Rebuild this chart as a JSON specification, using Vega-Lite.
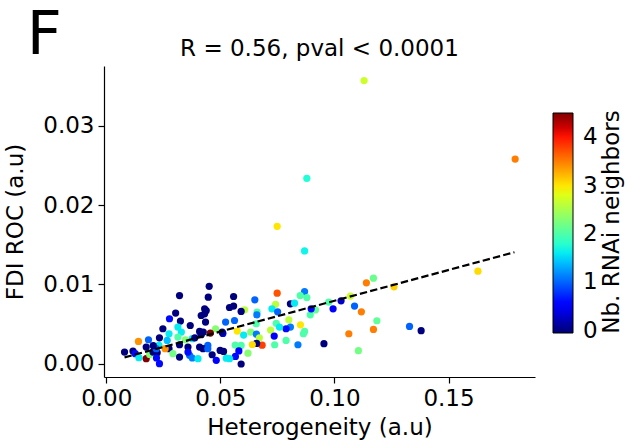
{
  "$schema": "https://vega.github.io/schema/vega-lite/v6.json",
  "padding": {"left": 4, "top": 5, "right": 5, "bottom": 5},
  "background": "white",
  "config": {
    "font": "DejaVu Sans",
    "view": {"stroke": null},
    "axis": {"domainColor": "black", "tickColor": "black", "labelColor": "black", "titleColor": "black", "labelFontSize": 23, "titleFontSize": 23, "titleFontWeight": "normal", "grid": false, "tickSize": 6, "domainWidth": 1.2, "tickWidth": 1.2, "labelPadding": 4, "titlePadding": 6},
    "title": {"fontWeight": "normal", "color": "black"}
  },
  "title": {"text": "F", "anchor": "start", "fontSize": 61, "fontWeight": "normal", "frame": "bounds", "offset": -29, "dx": 22},
  "datasets": {
    "pts": [
      {"x":0.1130,"y":0.03573,"n":2.7},{"x":0.1792,"y":0.02582,"n":3.5},{"x":0.0879,"y":0.02339,"n":1.75},{"x":0.0869,"y":0.01423,"n":1.65},
      {"x":0.1629,"y":0.01168,"n":3.05},{"x":0.1140,"y":0.0102,"n":3.5},{"x":0.1171,"y":0.01079,"n":2.15},{"x":0.1261,"y":0.0097,"n":3.1},
      {"x":0.1070,"y":0.00853,"n":2.7},{"x":0.1029,"y":0.00793,"n":0.3},{"x":0.0994,"y":0.00693,"n":0.5},{"x":0.1088,"y":0.00727,"n":1.0},
      {"x":0.1118,"y":0.00655,"n":3.5},{"x":0.1186,"y":0.00542,"n":2.1},{"x":0.1171,"y":0.00432,"n":3.5},{"x":0.1063,"y":0.00378,"n":3.5},
      {"x":0.1105,"y":0.00164,"n":2.2},{"x":0.1329,"y":0.0047,"n":1.0},{"x":0.1380,"y":0.00416,"n":0},{"x":0.0954,"y":0.00252,"n":0},
      {"x":0.0975,"y":0.00777,"n":2.0},{"x":0.0917,"y":0.0068,"n":2.1},{"x":0.0894,"y":0.00617,"n":2.0},{"x":0.0869,"y":0.00911,"n":1.1},
      {"x":0.0879,"y":0.00835,"n":2.0},{"x":0.0851,"y":0.00491,"n":3.0},{"x":0.0869,"y":0.00407,"n":2.0},{"x":0.0864,"y":0.00378,"n":2.0},
      {"x":0.0840,"y":0.00239,"n":1.1},{"x":0.0788,"y":0.00293,"n":2.0},{"x":0.0898,"y":0.00693,"n":0.6},{"x":0.0850,"y":0.0086,"n":2.0},
      {"x":0.0807,"y":0.00756,"n":0},{"x":0.0825,"y":0.00764,"n":1.6},{"x":0.0800,"y":0.00554,"n":2.6},{"x":0.0807,"y":0.00462,"n":1.1},
      {"x":0.0788,"y":0.00441,"n":0.6},{"x":0.0749,"y":0.01734,"n":3.0},{"x":0.0749,"y":0.0089,"n":3.7},{"x":0.0651,"y":0.00806,"n":1.0},
      {"x":0.0742,"y":0.00749,"n":2.6},{"x":0.0726,"y":0.00693,"n":1.6},{"x":0.0751,"y":0.00655,"n":1.0},{"x":0.0661,"y":0.00651,"n":2.0},
      {"x":0.0660,"y":0.00617,"n":1.1},{"x":0.0606,"y":0.0068,"n":2.6},{"x":0.0591,"y":0.00659,"n":0},{"x":0.0558,"y":0.00848,"n":0},
      {"x":0.0558,"y":0.00727,"n":0},{"x":0.0540,"y":0.00709,"n":0},{"x":0.0451,"y":0.00976,"n":0},{"x":0.0447,"y":0.0084,"n":0},
      {"x":0.0431,"y":0.00693,"n":0},{"x":0.0438,"y":0.00671,"n":0},{"x":0.0431,"y":0.0063,"n":0},{"x":0.0416,"y":0.00608,"n":0},
      {"x":0.0562,"y":0.00545,"n":1.0},{"x":0.0523,"y":0.00525,"n":1.0},{"x":0.0479,"y":0.00441,"n":2.3},{"x":0.0456,"y":0.00387,"n":4.5},
      {"x":0.0416,"y":0.00365,"n":0},{"x":0.0511,"y":0.00382,"n":0.5},{"x":0.0508,"y":0.00399,"n":0},{"x":0.0574,"y":0.00412,"n":3.0},
      {"x":0.0657,"y":0.00504,"n":2.0},{"x":0.0602,"y":0.00361,"n":1.6},{"x":0.0633,"y":0.00399,"n":2.3},{"x":0.0658,"y":0.00372,"n":1.1},
      {"x":0.0671,"y":0.00327,"n":2.6},{"x":0.0720,"y":0.00424,"n":2.6},{"x":0.0745,"y":0.0051,"n":2.0},{"x":0.0759,"y":0.00462,"n":1.6},
      {"x":0.0736,"y":0.00349,"n":0.5},{"x":0.0738,"y":0.00239,"n":2.0},{"x":0.0683,"y":0.00233,"n":3.8},{"x":0.0659,"y":0.00256,"n":0},
      {"x":0.0640,"y":0.00242,"n":3.05},{"x":0.0591,"y":0.0023,"n":2.0},{"x":0.0565,"y":0.00235,"n":2.0},{"x":0.0581,"y":0.00161,"n":0.5},
      {"x":0.0621,"y":0.00132,"n":2.3},{"x":0.0566,"y":0.00092,"n":0.6},{"x":0.0540,"y":0.00063,"n":1.6},{"x":0.0591,"y":-0.00004,"n":0},
      {"x":0.0445,"y":0.0023,"n":1.0},{"x":0.0464,"y":0.00113,"n":0},{"x":0.0499,"y":0.00168,"n":0},{"x":0.0526,"y":0.00069,"n":1.6},
      {"x":0.0482,"y":0.00042,"n":0.5},{"x":0.0514,"y":0.00155,"n":0},{"x":0.0321,"y":0.0086,"n":0},{"x":0.0304,"y":0.00639,"n":0},
      {"x":0.0277,"y":0.00567,"n":0.6},{"x":0.0325,"y":0.00538,"n":0},{"x":0.0435,"y":0.00525,"n":0},{"x":0.0368,"y":0.00482,"n":0},
      {"x":0.0314,"y":0.00462,"n":1.6},{"x":0.0409,"y":0.00407,"n":0},{"x":0.0425,"y":0.00399,"n":0},{"x":0.0275,"y":0.00378,"n":1.6},
      {"x":0.0329,"y":0.00399,"n":1.6},{"x":0.0314,"y":0.00336,"n":2.0},{"x":0.0347,"y":0.00302,"n":2.3},{"x":0.0377,"y":0.00315,"n":1.6},
      {"x":0.0388,"y":0.00327,"n":0},{"x":0.0321,"y":0.00239,"n":0},{"x":0.0358,"y":0.0021,"n":0},{"x":0.0409,"y":0.0021,"n":0},
      {"x":0.0424,"y":0.00189,"n":0},{"x":0.0445,"y":0.00189,"n":1.0},{"x":0.0275,"y":0.00189,"n":0},{"x":0.0292,"y":0.00126,"n":2.2},
      {"x":0.0321,"y":0.00084,"n":0},{"x":0.0365,"y":0.00105,"n":1.0},{"x":0.0377,"y":0.00072,"n":1.1},{"x":0.0402,"y":0.00063,"n":1.6},
      {"x":0.0141,"y":0.00281,"n":3.4},{"x":0.0185,"y":0.00302,"n":1.0},{"x":0.0080,"y":0.00147,"n":0},{"x":0.0117,"y":0.0016,"n":0},
      {"x":0.0127,"y":0.00126,"n":0.6},{"x":0.0143,"y":0.00076,"n":1.6},{"x":0.0175,"y":0.00063,"n":4.5},{"x":0.0233,"y":0.0,"n":0.6},
      {"x":0.0190,"y":0.00117,"n":2.3},{"x":0.0205,"y":0.00147,"n":0},{"x":0.0223,"y":0.00139,"n":0},{"x":0.0231,"y":0.0023,"n":1.6},
      {"x":0.0233,"y":0.00327,"n":0},{"x":0.0248,"y":0.00441,"n":0},{"x":0.0175,"y":0.0021,"n":0},{"x":0.0219,"y":0.00189,"n":1.0},
      {"x":0.0206,"y":0.00227,"n":0},{"x":0.0258,"y":0.00189,"n":3.4},{"x":0.0358,"y":0.00147,"n":0.6},{"x":0.0267,"y":0.00293,"n":1.4},
      {"x":0.0220,"y":0.00072,"n":0.6}
    ],
    "fit": [{"x": 0.0080, "y": 0.00079}, {"x": 0.1789, "y": 0.01407}]
  },
  "vconcat": [
    {
      "width": 431,
      "height": 311,
      "title": {"text": "R = 0.56, pval < 0.0001", "fontSize": 23, "fontWeight": "normal", "anchor": "middle", "offset": 5},
      "resolve": {"axis": {"y": "independent"}},
      "layer": [
        {
          "data": {"name": "pts"},
          "mark": {"type": "circle", "size": 52, "opacity": 1},
          "encoding": {
            "x": {"field": "x", "type": "quantitative", "scale": {"domain": [-0.001, 0.1879], "nice": false, "zero": false},
                  "axis": {"values": [0, 0.05, 0.1, 0.15], "format": ".2f", "title": "Heterogeneity (a.u)"}},
            "y": {"field": "y", "type": "quantitative", "scale": {"domain": [-0.00168, 0.03757], "nice": false, "zero": false},
                  "axis": {"values": [0, 0.01, 0.02, 0.03], "format": ".2f", "title": "FDI ROC (a.u)", "titlePadding": 15}},
            "color": {"field": "n", "type": "quantitative",
              "scale": {"domain": [-0.05, 0, 0.495, 0.5625, 1.53, 1.575, 1.6875, 2.88, 2.925, 2.97, 4.005, 4.095, 4.5],
                        "range": ["#00007f", "#00007f", "#0000ff", "#0000ff", "#00dbff", "#00e5f7", "#15ffe2", "#eeff08", "#f7f500", "#ffec00", "#ff1300", "#e80000", "#7f0000"],
                        "interpolate": "rgb"},
              "legend": {"orient": "none", "legendX": 449, "legendY": 47, "direction": "vertical", "gradientLength": 220, "gradientThickness": 20,
                         "gradientStrokeColor": "black", "gradientStrokeWidth": 1, "labelFontSize": 23, "labelColor": "black", "labelOffset": 10,
                         "values": [0, 1, 2, 3, 4], "title": null}}
          }
        },
        {
          "data": {"name": "fit"},
          "mark": {"type": "line", "color": "black", "strokeDash": [7.4, 3.2], "strokeWidth": 2.2},
          "encoding": {
            "x": {"field": "x", "type": "quantitative"},
            "y": {"field": "y", "type": "quantitative",
                  "axis": {"orient": "right", "title": "Nb. RNAi neighbors", "labels": false, "ticks": false, "domain": false,
                           "titleAngle": 270, "titleBaseline": "top", "titleAlign": "center", "titlePadding": 65, "titleFontSize": 23}}
          }
        }
      ]
    }
  ]
}
